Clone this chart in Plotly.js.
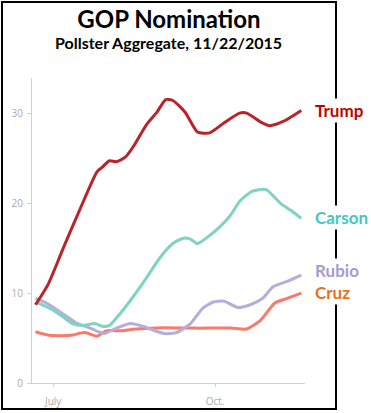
<!DOCTYPE html>
<html>
<head>
<meta charset="utf-8">
<script src="https://cdn.plot.ly/plotly-3.0.1.min.js"></script>
<style>html,body{margin:0;padding:0;background:#fff;}#chart{width:371px;height:413px;}</style>
</head>
<body>
<div id="chart"></div>
<script>
// ---- data ----
const trumpDates = ['2015-06-21','2015-06-28','2015-07-07','2015-07-16','2015-07-26','2015-07-29','2015-08-02','2015-08-06','2015-08-11','2015-08-16','2015-08-23','2015-08-29','2015-09-03','2015-09-07','2015-09-14','2015-09-21','2015-09-28','2015-10-06','2015-10-15','2015-10-19','2015-10-27','2015-11-01','2015-11-09','2015-11-19'];
const trumpValues = [8.7,10.9,15.1,19.2,23.5,24.0,24.7,24.6,25.1,26.4,28.7,30.1,31.5,31.4,30.1,27.9,27.8,28.9,30.0,30.0,29.0,28.6,29.1,30.3];

const carsonDates = ['2015-06-21','2015-06-27','2015-07-05','2015-07-12','2015-07-18','2015-07-25','2015-07-29','2015-08-02','2015-08-08','2015-08-14','2015-08-21','2015-08-31','2015-09-07','2015-09-13','2015-09-17','2015-09-21','2015-09-26','2015-10-04','2015-10-10','2015-10-15','2015-10-22','2015-10-30','2015-11-07','2015-11-13','2015-11-19'];
const carsonValues = [9.0,8.5,7.6,6.6,6.4,6.6,6.3,6.4,7.7,9.2,11.1,14.0,15.5,16.1,16.0,15.5,16.1,17.4,18.7,20.2,21.3,21.5,20.0,19.2,18.3];

const rubioDates = ['2015-06-21','2015-06-27','2015-07-05','2015-07-14','2015-07-22','2015-07-30','2015-08-06','2015-08-14','2015-08-21','2015-09-02','2015-09-09','2015-09-17','2015-09-24','2015-09-30','2015-10-06','2015-10-14','2015-10-21','2015-10-28','2015-11-03','2015-11-11','2015-11-19'];
const rubioValues = [9.4,8.9,7.9,6.7,6.1,5.5,6.1,6.6,6.3,5.5,5.6,6.6,8.3,9.0,9.1,8.4,8.7,9.4,10.7,11.3,12.0];

const cruzDates = ['2015-06-21','2015-06-29','2015-07-11','2015-07-19','2015-07-26','2015-07-31','2015-08-08','2015-08-17','2015-09-02','2015-09-20','2015-10-10','2015-10-19','2015-10-27','2015-11-04','2015-11-11','2015-11-19'];
const cruzValues = [5.7,5.3,5.3,5.6,5.2,5.8,5.8,6.0,6.15,6.1,6.1,6.0,7.0,8.9,9.4,10.0];

const candidates = ['Trump','Carson','Rubio','Cruz'];
const yTicks = [0,10,20,30];
const xTickVals = ['2015-07-01','2015-10-01'];
const xTickText = ['July','Oct.'];
const titleText = 'GOP Nomination';
const subtitleText = 'Pollster Aggregate, 11/22/2015';

// ---- styles ----
const lineColors = ['#b8242a','#80d3c1','#b8acd8','#f87a6a'];
const labelColors = ['#c00000','#45c6c6','#a99bcd','#e8701c'];
const labelY = [0.895,0.541,0.37,0.298];
const series = [[trumpDates,trumpValues],[carsonDates,carsonValues],[rubioDates,rubioValues],[cruzDates,cruzValues]];
const drawOrder = [3,2,1,0];

const traces = drawOrder.map(i => ({
  type:'scatter', mode:'lines', name:candidates[i],
  x:series[i][0], y:series[i][1],
  line:{color:lineColors[i], width:3, shape:'spline', smoothing:0.6},
  hoverinfo:'skip'
}));

const annotations = candidates.map((c,i) => ({
  text:'<b>'+c+'</b>', xref:'paper', yref:'paper',
  x:1.03, y:labelY[i], xanchor:'left', yanchor:'middle',
  showarrow:false, bgcolor:'#ffffff', borderpad:1,
  font:{family:'Lato, sans-serif', size:17, color:labelColors[i]}
}));
annotations.push({
  text:'<b>'+subtitleText+'</b>', xref:'paper', yref:'paper',
  x:0.5018, y:1.1148, xanchor:'center', yanchor:'middle', showarrow:false,
  font:{family:'Lato, sans-serif', size:16, color:'#000'}
});

const layout = {
  width:371, height:413,
  margin:{l:32, r:66, t:78, b:30, pad:0},
  paper_bgcolor:'#fff', plot_bgcolor:'#fff',
  showlegend:false,
  title:{text:'<b>'+titleText+'</b>', x:0.4555, xref:'container', xanchor:'center',
         y:0.9516, yref:'container', yanchor:'middle',
         font:{family:'Lato, sans-serif', size:24, color:'#000'}},
  xaxis:{type:'date', range:['2015-06-19','2015-11-21 03:00'],
         tickvals:xTickVals, ticktext:xTickText,
         showgrid:false, zeroline:false, showline:true, linecolor:'#d0d0d0', linewidth:1,
         ticks:'outside', ticklen:3, tickcolor:'#c8d4e0', ticklabelstandoff:6,
         tickfont:{family:'Open Sans, sans-serif', size:10, color:'#aaaaaa'}},
  yaxis:{range:[0,33.9], tickvals:yTicks,
         showgrid:false, zeroline:false, showline:true, linecolor:'#d0d0d0', linewidth:1,
         ticks:'outside', ticklen:4, tickcolor:'#d0d0d0', ticklabelstandoff:2,
         tickfont:{family:'Open Sans, sans-serif', size:10, color:'#aaaaaa'}},
  shapes:[{type:'rect', xref:'paper', yref:'paper',
           x0:-0.1099, x1:1.1136, y0:-0.0852, y1:1.249,
           line:{color:'#000', width:2}, fillcolor:'rgba(0,0,0,0)', layer:'above'}],
  annotations:annotations
};

Plotly.newPlot('chart', traces, layout, {displayModeBar:false, staticPlot:true});
</script>
</body>
</html>
